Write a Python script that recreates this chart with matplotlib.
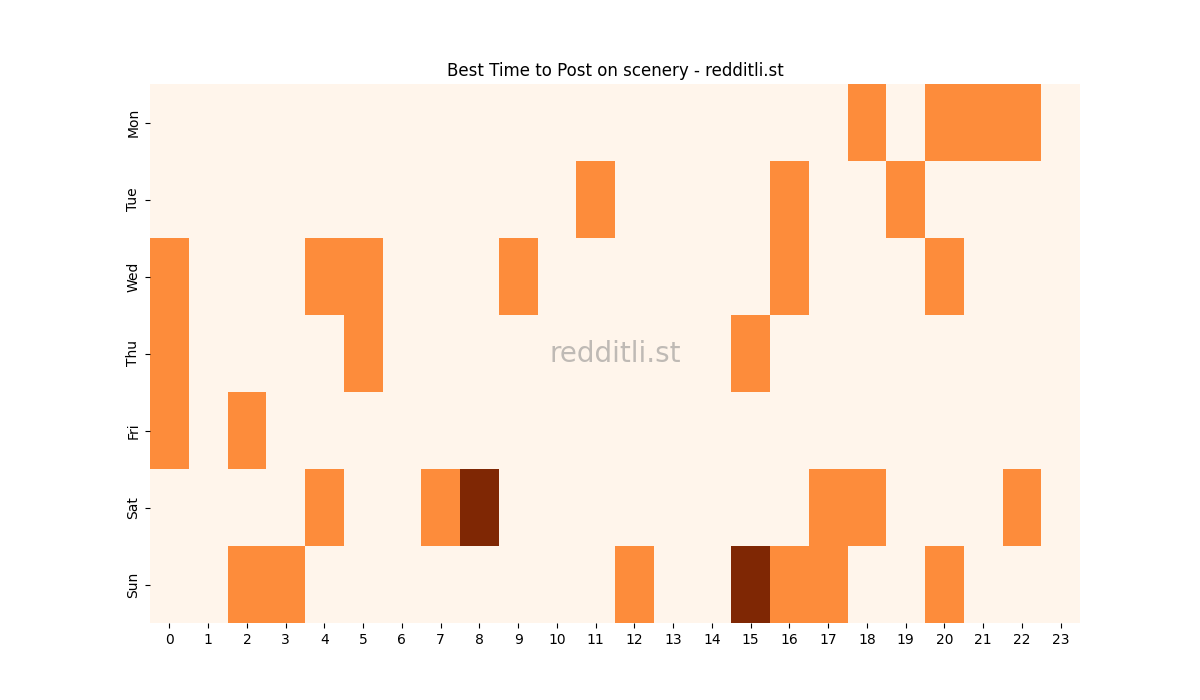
import matplotlib
matplotlib.use("Agg")
import matplotlib.pyplot as plt
import numpy as np

days = ["Mon", "Tue", "Wed", "Thu", "Fri", "Sat", "Sun"]
hours = [str(h) for h in range(24)]
mon = {18: 1, 20: 1, 21: 1, 22: 1}
tue = {11: 1, 16: 1, 19: 1}
wed = {0: 1, 4: 1, 5: 1, 9: 1, 16: 1, 20: 1}
thu = {0: 1, 5: 1, 15: 1}
fri = {0: 1, 2: 1}
sat = {4: 1, 7: 1, 8: 2, 17: 1, 18: 1, 22: 1}
sun = {2: 1, 3: 1, 12: 1, 15: 2, 16: 1, 17: 1, 20: 1}
rows = [mon, tue, wed, thu, fri, sat, sun]

data = np.zeros((len(days), len(hours)))
for i, r in enumerate(rows):
    for h, v in r.items():
        data[i, h] = v

fig, ax = plt.subplots(figsize=(12, 7), dpi=100)
ax.pcolormesh(data, cmap="Oranges", vmin=0, vmax=2)
ax.set_xlim(0, 24)
ax.set_ylim(7, 0)
ax.set_xticks(np.arange(24) + 0.5)
ax.set_xticklabels(hours)
ax.set_yticks(np.arange(7) + 0.5)
ax.set_yticklabels(days, rotation=90, va="center")
for s in ax.spines.values():
    s.set_visible(False)
ax.set_title("Best Time to Post on scenery - redditli.st")
ax.text(0.5, 0.5, "redditli.st", transform=ax.transAxes, ha="center", va="center",
        fontsize=20, color="grey", alpha=0.5)
fig.savefig("out.png")
